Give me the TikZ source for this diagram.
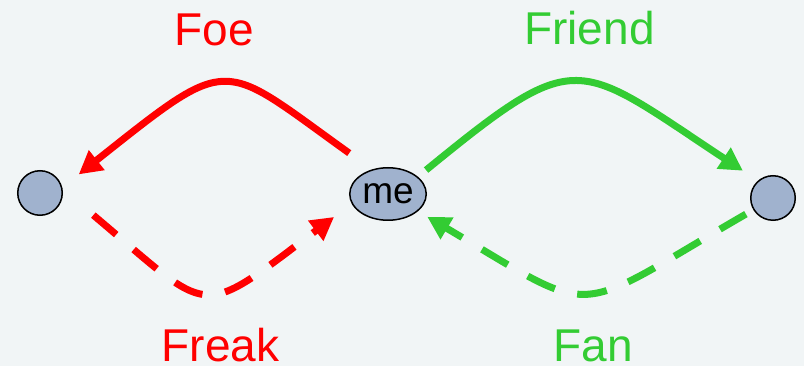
\documentclass[tikz,border=0pt]{standalone}
\usepackage{fontspec}
\setmainfont{Liberation Sans}
\usetikzlibrary{arrows.meta,shapes.geometric}
\definecolor{bgc}{HTML}{F1F5F6}
\definecolor{nodefill}{HTML}{A0B2CE}
\definecolor{foered}{HTML}{FF0000}
\definecolor{fangreen}{HTML}{33CC33}
\begin{document}
\begin{tikzpicture}[x=1pt,y=-1pt,
  person/.style={circle,draw=black,line width=1.5pt,fill=nodefill,
    minimum size=44.5pt,inner sep=0pt},
  self/.style={ellipse,draw=black,line width=1.5pt,fill=nodefill,
    minimum width=76.5pt,minimum height=52.5pt,inner sep=0pt,
    font=\fontsize{37}{40}\selectfont},
  rel/.style={line width=7pt,-{Triangle[length=23pt,width=24pt]}},
  loose/.style={rel,dash pattern=on 30pt off 23pt},
  lbl/.style={anchor=base,font=\fontsize{46}{50}\selectfont,inner sep=0pt}]

% canvas
\fill[bgc] (0,0) rectangle (804,366);
\useasboundingbox (0,0) rectangle (804,366);

% people
\node[person] (L) at (40,193) {};
\node[self]   (me) at (388,194) {me};
\node[person] (R) at (773,198) {};

% relations
\draw[rel,foered,shorten <=28pt,shorten >=21pt]
  (me.123) .. controls (219,60) and (233,52) .. (L.14);
\draw[rel,fangreen,shorten <=10.5pt,shorten >=18pt]
  (me.30) .. controls (579,45) and (575,60) .. (R.131);
\draw[loose,foered,shorten <=40pt,shorten >=22pt]
  (L.9) .. controls (214,316.6) and (196,321) .. (me.195);
\draw[loose,fangreen,shorten <=8.5pt,shorten >=10.8pt]
  (R.211) .. controls (567,317.5) and (602,320) .. (me.-30);

% labels
\node[lbl,text=foered]   (foe)    at (214.5,46)  {Foe};
\node[lbl,text=fangreen] (friend) at (589.5,45)  {Friend};
\node[lbl,text=foered]   (freak)  at (220.5,361) {Freak};
\node[lbl,text=fangreen] (fan)    at (593.5,361) {Fan};
\end{tikzpicture}
\end{document}
